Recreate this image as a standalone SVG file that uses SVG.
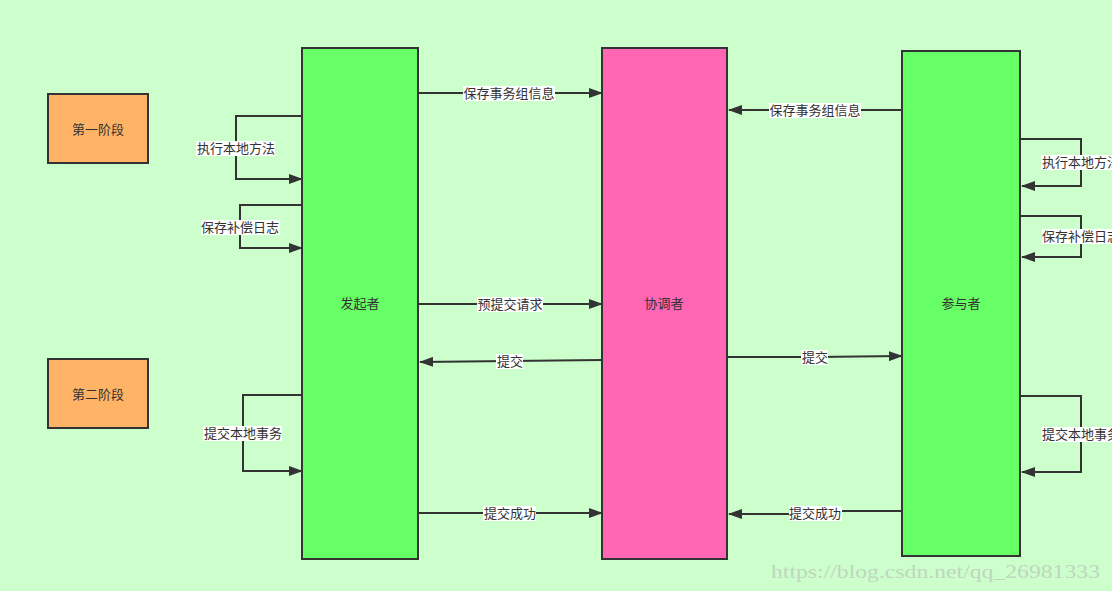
<svg xmlns="http://www.w3.org/2000/svg" width="1112" height="591" viewBox="0 0 1112 591">
<defs>
<marker id="ah" markerWidth="14" markerHeight="10" refX="13" refY="5" orient="auto" markerUnits="userSpaceOnUse">
<path d="M0,0 L14,5 L0,10 Z" fill="#333"/>
</marker>
<style>
.box{stroke:#333;stroke-width:2}
.stage{fill:#ffb366}
.green{fill:#66ff66}
.pink{fill:#ff66b3}
.t{font-family:"Noto Sans CJK SC","Liberation Sans",sans-serif;font-size:13px;fill:#333;text-anchor:middle;dominant-baseline:central}
.c{fill:none;stroke:#333;stroke-width:2;marker-end:url(#ah)}
.lb{fill:#fff}
</style>
</defs>
<rect width="1112" height="591" fill="#ccffcc"/>
<g id="stage1"><rect class="box stage" x="48" y="94" width="100" height="69"/><text class="t" x="98" y="128">第一阶段</text></g>
<g id="stage2"><rect class="box stage" x="48" y="359" width="100" height="69"/><text class="t" x="98" y="393">第二阶段</text></g>
<g id="initiator"><rect class="box green" x="302" y="48" width="116" height="511"/><text class="t" x="360" y="302">发起者</text></g>
<g id="coordinator"><rect class="box pink" x="602" y="48" width="125" height="511"/><text class="t" x="664" y="302">协调者</text></g>
<g id="participant"><rect class="box green" x="902" y="51" width="118" height="505"/><text class="t" x="961" y="302">参与者</text></g>
<g id="connectors">
<path class="c" d="M418,93 L602,93"/>
<rect class="lb" x="463" y="86" width="92" height="15"/><text class="t" x="509" y="92">保存事务组信息</text>
<path class="c" d="M902,110 L729,110"/>
<rect class="lb" x="769" y="103" width="92" height="15"/><text class="t" x="815" y="109">保存事务组信息</text>
<path class="c" d="M302,116 L236,116 L236,179 L302,179"/>
<rect class="lb" x="196" y="141" width="79" height="15"/><text class="t" x="236" y="147">执行本地方法</text>
<path class="c" d="M302,205 L240,205 L240,248 L302,248"/>
<rect class="lb" x="201" y="220" width="79" height="15"/><text class="t" x="240" y="226">保存补偿日志</text>
<path class="c" d="M418,304 L602,304"/>
<rect class="lb" x="477" y="297" width="66" height="15"/><text class="t" x="510" y="303">预提交请求</text>
<path class="c" d="M602,360 L510,361 L420,362"/>
<rect class="lb" x="496" y="354" width="27" height="15"/><text class="t" x="510" y="360">提交</text>
<path class="c" d="M727,357 L815,357 L902,356"/>
<rect class="lb" x="801" y="350" width="27" height="15"/><text class="t" x="815" y="356">提交</text>
<path class="c" d="M302,395 L243,395 L243,471 L302,471"/>
<rect class="lb" x="203" y="426" width="79" height="15"/><text class="t" x="243" y="432">提交本地事务</text>
<path class="c" d="M418,513 L602,513"/>
<rect class="lb" x="483" y="506" width="53" height="15"/><text class="t" x="510" y="512">提交成功</text>
<path class="c" d="M902,511 L840,511 L788,514 L729,514"/>
<rect class="lb" x="789" y="506" width="53" height="15"/><text class="t" x="815" y="512">提交成功</text>
<path class="c" d="M1020,139 L1081,139 L1081,186 L1022,186"/>
<rect class="lb" x="1041" y="155" width="79" height="15"/><text class="t" x="1081" y="161">执行本地方法</text>
<path class="c" d="M1020,216 L1081,216 L1081,257 L1022,257"/>
<rect class="lb" x="1042" y="229" width="79" height="15"/><text class="t" x="1081" y="235">保存补偿日志</text>
<path class="c" d="M1020,396 L1081,396 L1081,472 L1022,472"/>
<rect class="lb" x="1041" y="427" width="79" height="15"/><text class="t" x="1081" y="433">提交本地事务</text>
</g>
<text x="771" y="578" font-family="Liberation Serif, serif" font-size="18" fill="#bfd6bf" textLength="329" lengthAdjust="spacingAndGlyphs">https://blog.csdn.net/qq_26981333</text>
</svg>
